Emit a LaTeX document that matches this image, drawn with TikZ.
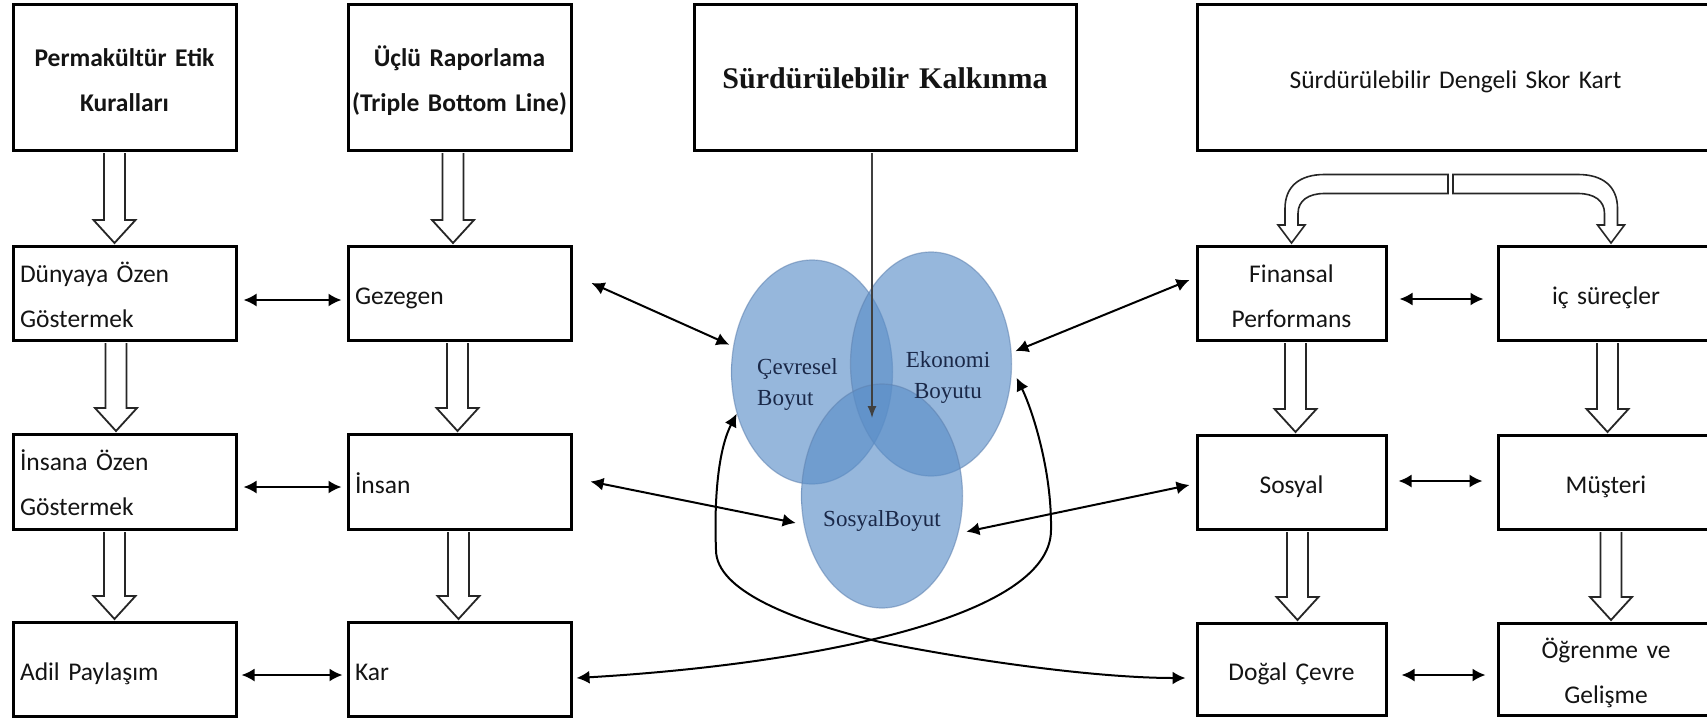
\documentclass[tikz,border=0pt]{standalone}
\usepackage{fontspec}
\usetikzlibrary{arrows.meta,calc,shapes.geometric}
\newfontfamily\boxf{Carlito}
\newfontfamily\serf{Liberation Serif}
\newfontfamily\vennf{Liberation Serif}
\newcommand\boxstrut{\rule[-11pt]{0pt}{45pt}}
\newcommand\vennstrut{\rule[-9pt]{0pt}{31pt}}
\definecolor{txt}{HTML}{141414}
\definecolor{vennA}{RGB}{90,142,200}
\definecolor{vennB}{RGB}{58,108,172}
\definecolor{venntxt}{HTML}{1A2848}
\definecolor{vennedge}{HTML}{5F82B0}
\pgfdeclareradialshading{vennshade}{\pgfpoint{-6bp}{10bp}}{color(0bp)=(vennA); color(30bp)=(vennA); color(52bp)=(vennB); color(60bp)=(vennB)}
\begin{document}
\begin{tikzpicture}[x=1pt,y=-1pt,
  box/.style={draw, line width=3pt, inner xsep=7pt, inner ysep=0pt, text=txt,
    font=\boxf\fontsize{25.5}{45}\selectfont},
  boldbox/.style={box, inner xsep=2pt, font=\boxf\bfseries\fontsize{25.5}{45}\selectfont},
  venn/.style={ellipse, minimum width=161pt, minimum height=224pt, inner sep=0pt,
    shade, shading=vennshade, fill opacity=0.63, draw=vennedge, draw opacity=0.55, line width=1.2pt},
  vtxt/.style={inner sep=0pt, text=venntxt, font=\vennf\fontsize{23}{31}\selectfont},
  dbl/.style={line width=2pt, {Latex[length=13pt,width=13pt]}-{Latex[length=13pt,width=13pt]}},
  hollow/.style={draw=black!85, line width=1.8pt, fill=white,
    to path={let \p1=(\tikztostart), \p2=(\tikztotarget) in
      (\x1-10.5pt,\y1) -- (\x1-10.5pt,\y2+23pt) -- (\x1-21pt,\y2+23pt) -- (\x1,\y2)
      -- (\x1+21pt,\y2+23pt) -- (\x1+10.5pt,\y2+23pt) -- (\x1+10.5pt,\y1)}},
  bent/.style={draw=black!85, line width=1.6pt, fill=white,
    to path={let \p1=(\tikztostart), \p2=(\tikztotarget), \n1={sign(\x2-\x1)} in
      (\x1,\y1) -- ({\x2-(\n1)*33pt},\y1)
      .. controls ({\x2-(\n1)*8pt},\y1) and ({\x2+(\n1)*6.5pt},\y1-12pt) .. ({\x2+(\n1)*6.5pt},\y1-34pt)
      -- ({\x2+(\n1)*6.5pt},\y2+18pt) -- ({\x2+(\n1)*13.5pt},\y2+18pt) -- (\x2,\y2)
      -- ({\x2-(\n1)*13.5pt},\y2+18pt) -- ({\x2-(\n1)*6.5pt},\y2+18pt)
      -- ({\x2-(\n1)*6.5pt},\y1-39pt)
      .. controls ({\x2-(\n1)*6.5pt},\y1-26pt) and ({\x2-(\n1)*17pt},\y1-19pt) .. ({\x2-(\n1)*33pt},\y1-19pt)
      -- (\x1,\y1-19pt) -- cycle}}
]
\path[fill=white] (0,0) rectangle (1707,720);
\useasboundingbox (0,0) rectangle (1707,720);

% top boxes
\node[boldbox, align=center, text width=219pt, minimum height=146pt] (perm) at (124.5,77) {\boxstrut Permakültür Etik\\\boxstrut Kuralları};
\node[boldbox, align=center, text width=219pt, minimum height=146pt] (ucl) at (459.5,77) {\boxstrut Üçlü Raporlama\\\boxstrut \mbox{(Triple Bottom Line)}};
\node[box, align=center, text width=368pt, minimum height=146pt, font=\serf\bfseries\fontsize{30}{45}\selectfont] (sk) at (885,77) {\boxstrut Sürdürülebilir Kalkınma};
\node[box, align=center, text width=503pt, minimum height=146pt] (sdsk) at (1455.5,77) {\boxstrut Sürdürülebilir Dengeli Skor Kart};

% left columns
\node[box, align=left, text width=209pt, minimum height=94pt] (dun) at (124.5,293) {\boxstrut Dünyaya Özen\\\boxstrut Göstermek};
\node[box, align=left, text width=209pt, minimum height=94pt] (gez) at (459.5,293) {\boxstrut Gezegen};
\node[box, align=left, text width=209pt, minimum height=95pt] (ins1) at (124.5,481.5) {\boxstrut İnsana Özen\\\boxstrut Göstermek};
\node[box, align=left, text width=209pt, minimum height=95pt] (ins2) at (459.5,481.5) {\boxstrut İnsan};
\node[box, align=left, text width=209pt, minimum height=94pt] (adil) at (124.5,669) {\boxstrut Adil Paylaşım};
\node[box, align=left, text width=209pt, minimum height=94pt] (kar) at (459.5,669) {\boxstrut Kar};

% right columns
\node[box, align=center, text width=175pt, minimum height=94pt] (fin) at (1291.5,293) {\boxstrut Finansal\\\boxstrut Performans};
\node[box, align=center, text width=202pt, minimum height=94pt] (ic) at (1606,293) {\boxstrut iç süreçler};
\node[box, align=center, text width=175pt, minimum height=94pt] (sos) at (1291.5,482) {\boxstrut Sosyal};
\node[box, align=center, text width=202pt, minimum height=94pt] (mus) at (1606,482) {\boxstrut Müşteri};
\node[box, align=center, text width=175pt, minimum height=92pt] (dog) at (1291.5,669) {\boxstrut Doğal Çevre};
\node[box, align=center, text width=202pt, minimum height=92pt] (ogr) at (1606,669) {\boxstrut Öğrenme ve\\\boxstrut Gelişme};

% venn circles
\node[venn] (cev) at (812,372) {};
\node[venn] (eko) at (931,364) {};
\node[venn] (sosc) at (882,496) {};
\node[vtxt, align=left, anchor=west] (cevt) at (757,383) {\vennstrut Çevresel\\\vennstrut Boyut};
\node[vtxt, align=center] (ekot) at (948,376) {\vennstrut Ekonomi\\\vennstrut Boyutu};
\node[vtxt] (sost) at (882,519.5) {\vennstrut SosyalBoyut};

% vertical line into venn
\coordinate (vtip) at (872,418);
\draw[line width=1.5pt, draw=black!75, -{Latex[length=12pt,width=9pt]}] ([xshift=-13pt,yshift=-1.5pt]sk.south) -- (vtip);

% hollow down arrows
\draw[hollow] ([xshift=-10pt,yshift=-1.5pt]perm.south) to ([xshift=-10pt,yshift=1.5pt]dun.north);
\draw[hollow] ([xshift=-8.5pt,yshift=-1.5pt]dun.south) to ([xshift=-8.5pt,yshift=1.5pt]ins1.north);
\draw[hollow] ([xshift=-10pt,yshift=-1.5pt]ins1.south) to ([xshift=-10pt,yshift=1.5pt]adil.north);
\draw[hollow] ([xshift=-6.5pt,yshift=-1.5pt]ucl.south) to ([xshift=-6.5pt,yshift=1.5pt]gez.north);
\draw[hollow] ([xshift=-2pt,yshift=-1.5pt]gez.south) to ([xshift=-2pt,yshift=1.5pt]ins2.north);
\draw[hollow] ([xshift=-1pt,yshift=-1.5pt]ins2.south) to ([xshift=-1pt,yshift=1.5pt]kar.north);
\draw[hollow] ([xshift=4pt,yshift=-1.5pt]fin.south) to ([xshift=4pt,yshift=1.5pt]sos.north);
\draw[hollow] ([xshift=6pt,yshift=-1.5pt]sos.south) to ([xshift=6pt,yshift=1.5pt]dog.north);
\draw[hollow] ([xshift=1.5pt,yshift=-1.5pt]ic.south) to ([xshift=1.5pt,yshift=1.5pt]mus.north);
\draw[hollow] ([xshift=5pt,yshift=-1.5pt]mus.south) to ([xshift=5pt,yshift=1.5pt]ogr.north);

% split bent arrows
\draw[bent] ([shift={(-7.5pt,-23pt)}]sdsk.south) to ([yshift=1.5pt]fin.north);
\draw[bent] ([shift={(-2.5pt,-23pt)}]sdsk.south) to ([xshift=5pt,yshift=1.5pt]ic.north);

% horizontal double arrows
\draw[dbl, shorten <=6pt, shorten >=5pt] ([yshift=-7pt]dun.east) -- ([yshift=-7pt]gez.west);
\draw[dbl, shorten <=6pt, shorten >=5pt] ([yshift=-5.5pt]ins1.east) -- ([yshift=-5.5pt]ins2.west);
\draw[dbl, shorten <=4pt, shorten >=4pt] ([yshift=-6pt]adil.east) -- ([yshift=-6pt]kar.west);
\draw[dbl, shorten <=12pt, shorten >=13pt] ([yshift=-6pt]fin.east) -- ([yshift=-6pt]ic.west);
\draw[dbl, shorten <=11pt, shorten >=14pt] ([yshift=1pt]sos.east) -- ([yshift=1pt]mus.west);
\draw[dbl, shorten <=14pt, shorten >=11pt] ([yshift=-6pt]dog.east) -- ([yshift=-6pt]ogr.west);

% arrows to circles
\draw[dbl, shorten >=4pt] ([xshift=19pt,yshift=10pt]gez.east) -- (cev.162);
\draw[dbl, shorten >=8pt] ([xshift=18pt]ins2.east) -- (sosc.200);
\draw[dbl, shorten <=4pt] (eko.8) -- ([xshift=-6pt,yshift=13pt]fin.west);
\draw[dbl, shorten <=8pt] (sosc.-26) -- ([xshift=-6pt,yshift=-3pt]sos.west);

% long curves
\draw[dbl] (cev.209) .. controls (718,450) and (714,500) .. (716,550)
  .. controls (716,590) and (790,620) .. (880,642)
  .. controls (980,662) and (1100,678) .. ([xshift=-10pt,yshift=-9pt]dog.west);
\draw[dbl] ([xshift=4pt,yshift=-9pt]kar.east) .. controls (800,665) and (1051,620) .. (1051,530)
  .. controls (1052,470) and (1032,409) .. ([xshift=5pt,yshift=-1pt]eko.-9);
\end{tikzpicture}
\end{document}
